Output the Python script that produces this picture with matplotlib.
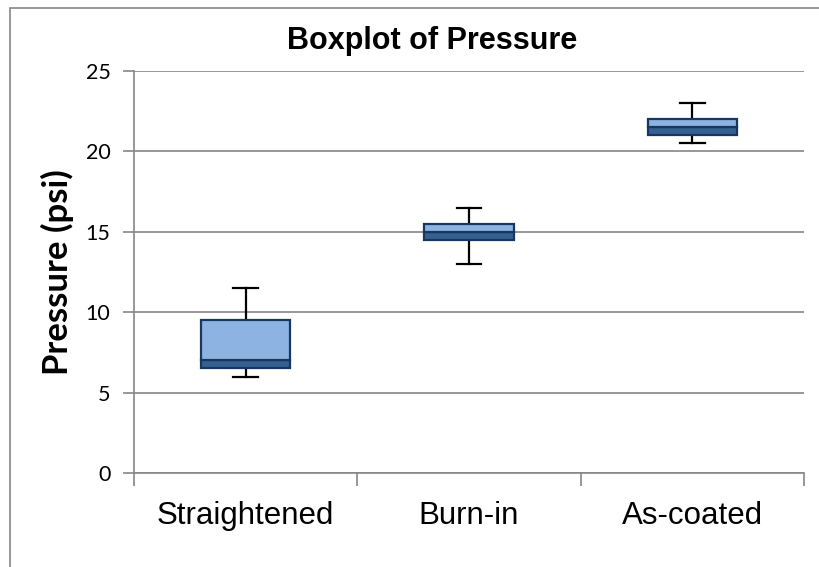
import matplotlib
matplotlib.use("Agg")
import matplotlib.pyplot as plt
from matplotlib.patches import Rectangle

categories = ["Straightened", "Burn-in", "As-coated"]
mins = [6.0, 13.0, 20.5]
q1 = [6.5, 14.5, 21.0]
medians = [7.0, 15.0, 21.5]
q3 = [9.5, 15.5, 22.0]
maxs = [11.5, 16.5, 23.0]
yticks = [0, 5, 10, 15, 20, 25]

W, H = 820, 567
fig = plt.figure(figsize=(W / 100, H / 100), dpi=100)
fig.patch.set_facecolor("white")

# outer chart border (cropped on right/bottom)
fig.patches.append(Rectangle((10 / W, -0.1), 1.2, 1.1 - 8 / H, transform=fig.transFigure,
                             fill=False, edgecolor="#868686", linewidth=1.2))

ax = fig.add_axes([134 / W, (H - 473) / H, (804 - 134) / W, (473 - 71) / H])
x = list(range(1, len(categories) + 1))
width = 0.40
dark = "#376092"
light = "#8DB3E2"
edge = "#17375E"

ax.bar(x, [m - a for m, a in zip(medians, q1)], bottom=q1, width=width,
       color=dark, edgecolor=edge, linewidth=1.6, zorder=3)
ax.bar(x, [b - m for b, m in zip(q3, medians)], bottom=medians, width=width,
       color=light, edgecolor=edge, linewidth=1.6, zorder=3)

cap = 0.055
for xi, lo, a, b, hi in zip(x, mins, q1, q3, maxs):
    ax.plot([xi, xi], [b, hi], color="black", lw=1.6, zorder=2)
    ax.plot([xi, xi], [lo, a], color="black", lw=1.6, zorder=2)
    ax.plot([xi - cap, xi + cap], [hi, hi], color="black", lw=1.6, zorder=2)
    ax.plot([xi - cap, xi + cap], [lo, lo], color="black", lw=1.6, zorder=2)

ax.set_xlim(0.5, len(categories) + 0.5)
ax.set_ylim(0, 25)
ax.set_yticks(yticks)
ax.set_yticklabels([str(t) for t in yticks], fontsize=15.5, family=["Lato", "DejaVu Sans"])
ax.set_xticks(x)
ax.set_xticklabels(categories, fontsize=22.5, family=["Liberation Sans", "DejaVu Sans"])
ax.set_xticks([i + 0.5 for i in range(0, len(categories) + 1)], minor=True)
ax.tick_params(axis="x", which="major", length=0, pad=20)
ax.tick_params(axis="x", which="minor", length=9, color="#868686", width=1.2)
ax.tick_params(axis="y", length=8, color="#868686", width=1.2, pad=9)

ax.grid(axis="y", color="#868686", linewidth=1.2, zorder=0)
ax.set_axisbelow(True)
for s in ["top", "right"]:
    ax.spines[s].set_visible(False)
for s in ["left", "bottom"]:
    ax.spines[s].set_color("#868686")
    ax.spines[s].set_linewidth(1.2)

ax.set_ylabel("Pressure (psi)", fontsize=25, fontweight="bold",
              family=["Lato", "DejaVu Sans"], labelpad=8)
fig.text(432 / W, 1 - 41 / H, "Boxplot of Pressure", ha="center", va="center",
         fontsize=22, fontweight="bold", family=["Liberation Sans", "DejaVu Sans"])

fig.savefig("out.png", dpi=100)
